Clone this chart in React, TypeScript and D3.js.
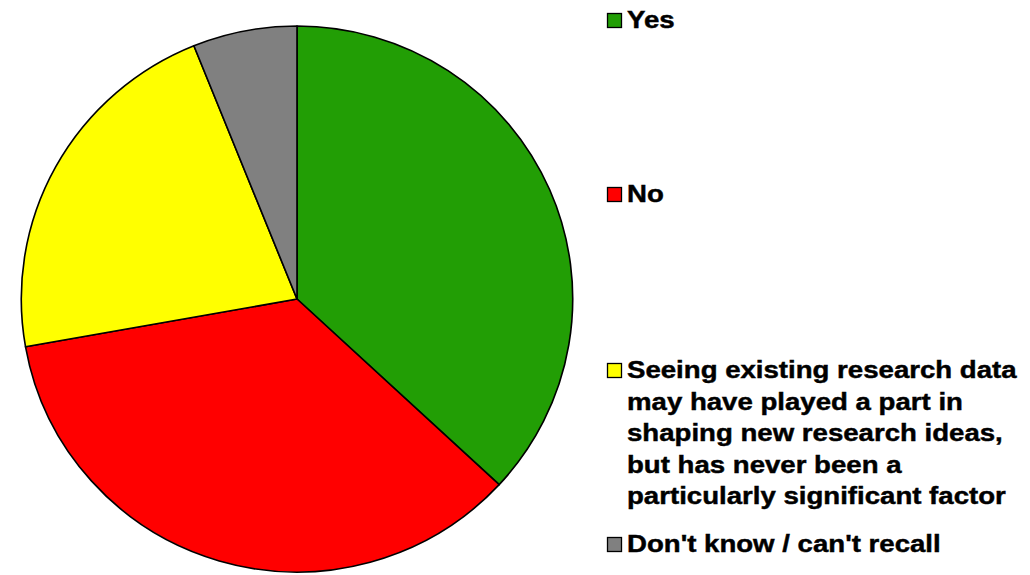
import * as d3 from 'd3';

const categories = [
  'Yes',
  'No',
  'Seeing existing research data may have played a part in shaping new research ideas, but has never been a particularly significant factor',
  "Don't know / can't recall"
];
const values = [36.9, 35.3, 21.7, 6.1];
const colors = ['#229e05', '#ff0000', '#ffff00', '#808080'];

// legend labels as they wrap in the original
const legendLines = [
  ['Yes'],
  ['No'],
  [
    'Seeing existing research data',
    'may have played a part in',
    'shaping new research ideas,',
    'but has never been a',
    'particularly significant factor'
  ],
  ["Don't know / can't recall"]
];
const legendBaselines = [28, 202, 378, 552];

const width = 1030;
const height = 575;

export default function App(): JSX.Element {
  const cx = 297;
  const cy = 299;
  const r = 273;

  const pie = d3
    .pie<number>()
    .value((d) => d)
    .sort(null);
  const arcs = pie(values);
  const arc = d3.arc<d3.PieArcDatum<number>>().innerRadius(0).outerRadius(r);

  const lineGap = 31.5;
  const textX = 627;
  const sx = 1.15;

  return (
    <div style={{ position: 'fixed', left: 0, top: 0 }}>
      <svg xmlns="http://www.w3.org/2000/svg" width={width} height={height}>
        <rect width={width} height={height} fill="#fff" />
        <g transform={`translate(${cx},${cy}) scale(1.01,1)`}>
          {arcs.map((d, i) => (
            <path
              key={i}
              d={arc(d) as string}
              fill={colors[i]}
              stroke="#000"
              strokeWidth={1.6}
              strokeLinejoin="round"
            />
          ))}
        </g>
        <g
          fontFamily="'Liberation Sans', Arial, sans-serif"
          fontWeight="bold"
          fontSize={24}
          fill="#000"
        >
          {categories.map((c, i) => (
            <g key={c}>
              <rect
                x={607.5}
                y={legendBaselines[i] - 14.5}
                width={14}
                height={14}
                fill={colors[i]}
                stroke="#000"
                strokeWidth={1.3}
              />
              {legendLines[i].map((line, j) => (
                <text
                  key={j}
                  stroke="#000"
                  strokeWidth={0.45}
                  transform={`translate(${textX},${legendBaselines[i] + j * lineGap}) scale(${sx},1)`}
                >
                  {line}
                </text>
              ))}
            </g>
          ))}
        </g>
      </svg>
    </div>
  );
}
